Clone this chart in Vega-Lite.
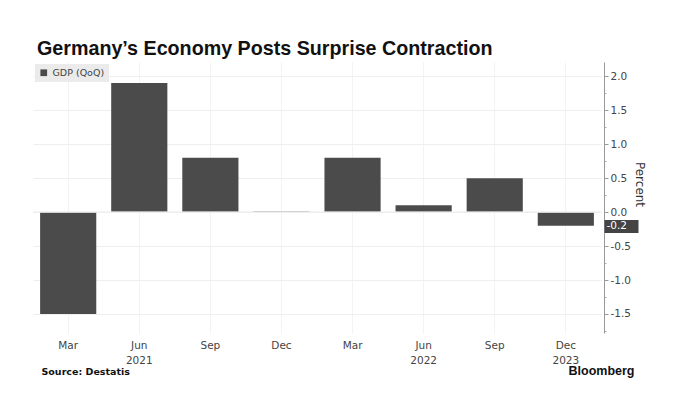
{
  "$schema": "https://vega.github.io/schema/vega-lite/v6.json",
  "autosize": {"type": "none"},
  "width": 568,
  "height": 271,
  "padding": {"left": 33, "top": 62, "right": 85, "bottom": 65},
  "background": "white",
  "title": {
    "text": "Germany’s Economy Posts Surprise Contraction",
    "anchor": "start",
    "frame": "group",
    "font": "Liberation Sans",
    "fontSize": 19.7,
    "fontWeight": "bold",
    "color": "#111111",
    "offset": 3,
    "dx": 4
  },
  "config": {
    "view": {"stroke": null},
    "font": "DejaVu Sans",
    "axis": {"labelFont": "DejaVu Sans", "labelColor": "#444444", "labelFontSize": 10.5}
  },
  "layer": [
    {
      "data": {
        "values": [
          {"q": "Mar 2021", "gdp": -1.5},
          {"q": "Jun 2021", "gdp": 1.9},
          {"q": "Sep 2021", "gdp": 0.8},
          {"q": "Dec 2021", "gdp": 0.01},
          {"q": "Mar 2022", "gdp": 0.8},
          {"q": "Jun 2022", "gdp": 0.1},
          {"q": "Sep 2022", "gdp": 0.5},
          {"q": "Dec 2022", "gdp": -0.2}
        ]
      },
      "mark": {"type": "bar"},
      "encoding": {
        "x": {
          "field": "q",
          "type": "nominal",
          "sort": null,
          "scale": {"paddingInner": 0.21, "paddingOuter": 0.1},
          "axis": {
            "labelAngle": 0,
            "domain": false,
            "ticks": false,
            "grid": true,
            "gridColor": "#f3f3f3",
            "labelPadding": 7,
            "labelLineHeight": 15,
            "labelExpr": "datum.value == 'Jun 2021' ? ['Jun', '     2021'] : datum.value == 'Jun 2022' ? ['Jun', '2022   '] : datum.value == 'Dec 2022' ? ['Dec', '     2023'] : slice(datum.value, 0, 3)",
            "title": "Source: Destatis",
            "titleFont": "DejaVu Sans",
            "titleFontSize": 9.5,
            "titleFontWeight": "bold",
            "titleColor": "#111111",
            "titleAnchor": "start",
            "titleAlign": "left",
            "titleX": 8,
            "titleY": 33
          }
        },
        "y": {
          "field": "gdp",
          "type": "quantitative",
          "scale": {"domain": [-1.78, 2.21], "nice": false, "zero": false},
          "axis": {
            "orient": "right",
            "values": [-1.5, -1, -0.5, 0, 0.5, 1, 1.5, 2],
            "labelExpr": "replace(format(datum.value, '.1f'), '−', '-')",
            "offset": 3,
            "domainColor": "#999999",
            "tickColor": "#999999",
            "tickSize": 4,
            "labelPadding": 2,
            "gridColor": "#eeeeee",
            "title": "Percent",
            "titleFont": "DejaVu Sans",
            "titleFontSize": 12,
            "titleFontWeight": "normal",
            "titleColor": "#333333",
            "titlePadding": 2,
            "titleY": 122
          }
        },
        "color": {
          "datum": "GDP (QoQ)",
          "type": "nominal",
          "scale": {"range": ["#4b4b4b"]},
          "legend": {
            "title": null,
            "orient": "top-left",
            "offset": 2,
            "fillColor": "#ebebeb",
            "padding": 4,
            "symbolType": "square",
            "symbolSize": 45,
            "symbolStrokeWidth": 0,
            "labelFontSize": 9.5,
            "labelColor": "#444444",
            "labelFont": "DejaVu Sans"
          }
        }
      }
    },
    {
      "data": {"values": [{"zero": 0}]},
      "mark": {"type": "rule", "color": "#eeeeee", "strokeWidth": 1},
      "encoding": {
        "y": {
          "field": "zero",
          "type": "quantitative",
          "axis": {
            "orient": "right",
            "values": [-1.75, -1.25, -0.75, -0.25, 0.25, 0.75, 1.25, 1.75],
            "offset": 3,
            "domain": false,
            "grid": false,
            "labels": false,
            "tickColor": "#aaaaaa",
            "tickSize": 2,
            "title": null
          }
        }
      }
    },
    {
      "data": {"values": [{"zero": 0}]},
      "mark": {"type": "rule", "color": "#eeeeee", "strokeWidth": 1},
      "encoding": {
        "y": {
          "field": "zero",
          "type": "quantitative",
          "axis": {
            "orient": "right",
            "values": [-0.2],
            "labelExpr": "replace(format(datum.value, '.1f'), '−', '-')",
            "offset": 3,
            "domain": false,
            "grid": false,
            "tickColor": "#444444",
            "tickSize": 34,
            "tickWidth": 13,
            "labelPadding": -32,
            "labelColor": "white",
            "labelFontSize": 10.5,
            "title": "Bloomberg",
            "titleAngle": 0,
            "titleFont": "Liberation Sans",
            "titleFontSize": 12.5,
            "titleFontWeight": "bold",
            "titleColor": "#111111",
            "titleAlign": "right",
            "titleBaseline": "middle",
            "titleX": 30,
            "titleY": 308
          }
        }
      }
    }
  ],
  "resolve": {"axis": {"y": "independent"}}
}
